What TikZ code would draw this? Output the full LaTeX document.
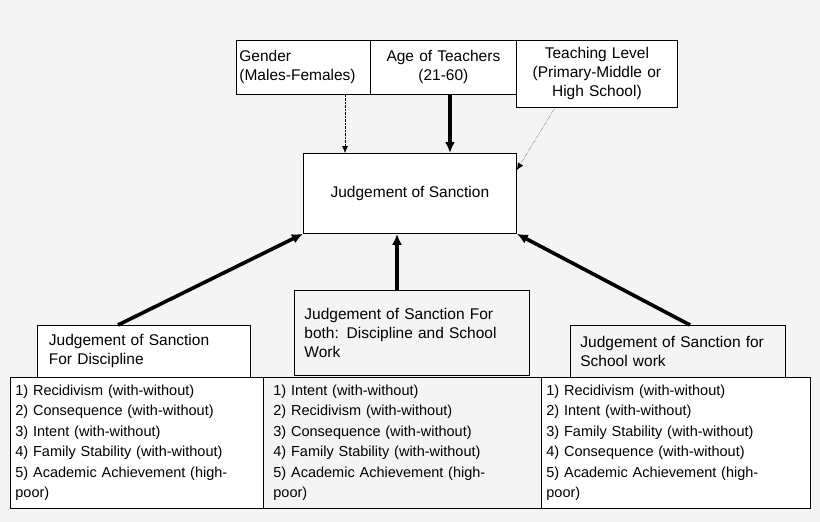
\documentclass[tikz,border=0pt]{standalone}
\usepackage{fontspec}
\setmainfont{Liberation Sans}
\usetikzlibrary{arrows.meta}
\definecolor{bggray}{HTML}{F4F4F4}

\begin{document}
\begin{tikzpicture}[
  x=1pt, y=-1pt,
  box/.style={
    % The border:
    draw=black, thick,
    % The filling:
    fill=white,
    % Font
    font=\fontsize{15.5}{19}\selectfont,
    inner sep=4pt, anchor=north west
  },
  listbox/.style={box, font=\fontsize{14.5}{20.5}\selectfont, inner sep=5pt},
  thickarrow/.style={-{Latex[length=11pt,width=10pt]}, line width=3.6pt},
  dotarrow/.style={-{Latex[length=7pt,width=6pt]}, densely dotted, thin},
  ]
  \fill [bggray] (0,0) rectangle (820,522);
  \useasboundingbox (0,0) rectangle (820,522);

  % top factors
  \node (gender) [box, minimum width=134pt, minimum height=54pt, align=left, text width=128pt, inner sep=3pt] at (236,40) {Gender\\(Males-Females)};
  \node (age) [box, minimum width=146pt, minimum height=54pt, align=center, text width=138pt] at (370,40) {Age of Teachers\\(21-60)};
  \node (level) [box, minimum width=161pt, minimum height=67pt, align=center, text width=155pt, inner sep=2pt] at (516,40) {Teaching Level\\(Primary-Middle or\\High School)};

  % central node
  \node (judge) [box, minimum width=213pt, minimum height=80pt, align=center] at (303,153) {Judgement of Sanction};

  % the three kinds of judgement
  \node (discH) [box, minimum width=213pt, minimum height=52pt, text width=190pt, align=left, inner xsep=10pt] at (37,325) {Judgement of Sanction\\For Discipline};
  \node (bothH) [box, fill=bggray, minimum width=230pt, minimum height=85pt, text width=215pt, align=left, inner xsep=10pt] at (294,290) {Judgement of Sanction For\\both: Discipline and School\\Work};
  \node (workH) [box, fill=bggray, minimum width=212pt, minimum height=52pt, text width=195pt, align=left, inner xsep=10pt] at (570,325) {Judgement of Sanction for\\School work};

  % lists of factors
  \node (discL) [listbox, minimum width=253pt, minimum height=131pt, text width=243pt, align=left] at (10,377)
    {1) Recidivism (with-without)\\2) Consequence (with-without)\\3) Intent (with-without)\\4) Family Stability (with-without)\\5) Academic Achievement (high-\\poor)};
  \node (bothL) [listbox, fill=bggray, minimum width=278pt, minimum height=131pt, text width=258pt, align=left, inner xsep=10pt] at (263,377)
    {1) Intent (with-without)\\2) Recidivism (with-without)\\3) Consequence (with-without)\\4) Family Stability (with-without)\\5) Academic Achievement (high-\\poor)};
  \node (workL) [listbox, minimum width=269pt, minimum height=131pt, text width=259pt, align=left] at (541,377)
    {1) Recidivism (with-without)\\2) Intent (with-without)\\3) Family Stability (with-without)\\4) Consequence (with-without)\\5) Academic Achievement (high-\\poor)};

  % arrows into the central node
  \draw [dotarrow] (gender.south -| 345,0) -- (judge.north -| 345,0);
  \draw [thickarrow] (age.south -| 450,0) -- (judge.north -| 450,0);
  \draw [dotarrow] (level.south -| 555,0) -- (judge.north east |- 0,170);
  \draw [thickarrow] (discH.north -| 118,0) -- (judge.south west);
  \draw [thickarrow] (bothH.north -| 397,0) -- (judge.south -| 397,0);
  \draw [thickarrow] (workH.north -| 690,0) -- (judge.south east);

\end{tikzpicture}
\end{document}
